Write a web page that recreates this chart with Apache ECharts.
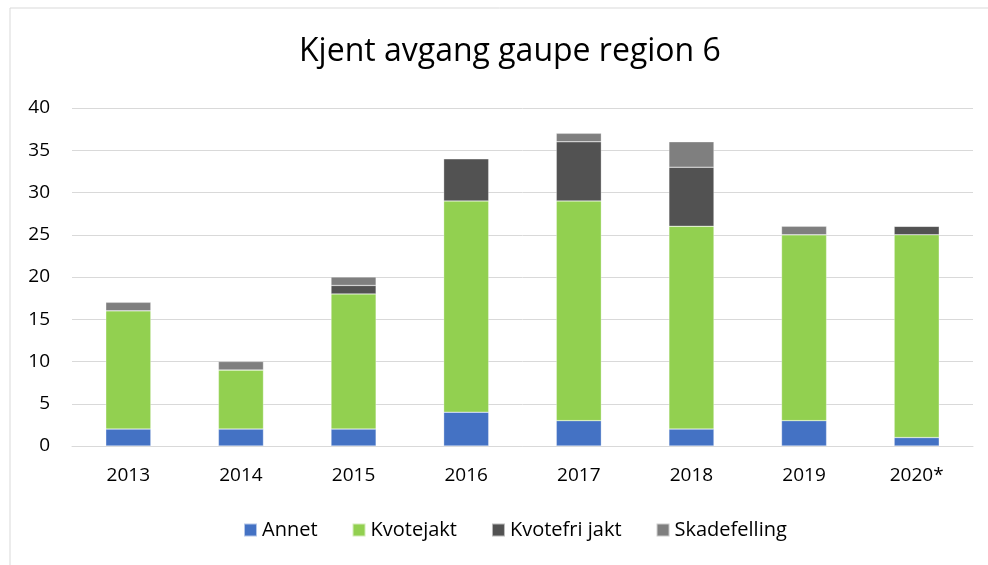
<!DOCTYPE html>
<html>
<head>
<meta charset="utf-8">
<script src="https://cdn.jsdelivr.net/npm/echarts@6/dist/echarts.min.js"></script>
<style>
  html, body { margin: 0; padding: 0; background: #fff; }
  #main { width: 988px; height: 565px; }
</style>
</head>
<body>
<div id="main"></div>
<script>
// Kjent avgang gaupe, region 6
var years = ['2013', '2014', '2015', '2016', '2017', '2018', '2019', '2020*'];
var annet = [2, 2, 2, 4, 3, 2, 3, 1];
var kvotejakt = [14, 7, 16, 25, 26, 24, 22, 24];
var kvotefri = [0, 0, 1, 5, 7, 7, 0, 1];
var skadefelling = [1, 1, 1, 0, 1, 3, 1, 0];

var chart = echarts.init(document.getElementById('main'));

function bar(name, data, color) {
    return {
        name: name,
        type: 'bar',
        stack: 'total',
        barWidth: '40%',
        data: data,
        itemStyle: { color: color, borderColor: 'rgba(255,255,255,0.6)', borderWidth: 0.5 }
    };
}

chart.setOption({
    animation: false,
    textStyle: { fontFamily: 'Open Sans', color: '#000' },
    graphic: [{
        type: 'rect',
        shape: { x: 10, y: 8, width: 990, height: 570 },
        style: { fill: 'none', stroke: '#d9d9d9', lineWidth: 1 }
    }],
    title: {
        text: 'Kjent avgang gaupe region 6',
        left: 294,
        top: 31,
        textStyle: { fontSize: 32, fontWeight: 'normal', color: '#000', fontFamily: 'Open Sans' }
    },
    legend: {
        bottom: 20,
        left: 238,
        itemWidth: 13,
        itemHeight: 13,
        itemGap: 34,
        icon: 'rect',
        textStyle: { fontSize: 20, color: '#000' },
        data: ['Annet', 'Kvotejakt', 'Kvotefri jakt', 'Skadefelling']
    },
    grid: { left: 72, right: 15, top: 108, bottom: 119, containLabel: false },
    xAxis: {
        type: 'category',
        data: years,
        axisLine: { lineStyle: { color: '#d9d9d9', width: 1 } },
        axisTick: { show: false },
        axisLabel: { fontSize: 19, color: '#000', margin: 20 }
    },
    yAxis: {
        type: 'value',
        min: 0,
        max: 40,
        interval: 5,
        axisLine: { show: false },
        axisTick: { show: false },
        axisLabel: { fontSize: 19, color: '#000', margin: 22 },
        splitLine: { lineStyle: { color: '#d9d9d9', width: 1 } }
    },
    series: [
        bar('Annet', annet, '#4472C4'),
        bar('Kvotejakt', kvotejakt, '#92D050'),
        bar('Kvotefri jakt', kvotefri, '#525252'),
        bar('Skadefelling', skadefelling, '#7F7F7F')
    ]
});
</script>
</body>
</html>
